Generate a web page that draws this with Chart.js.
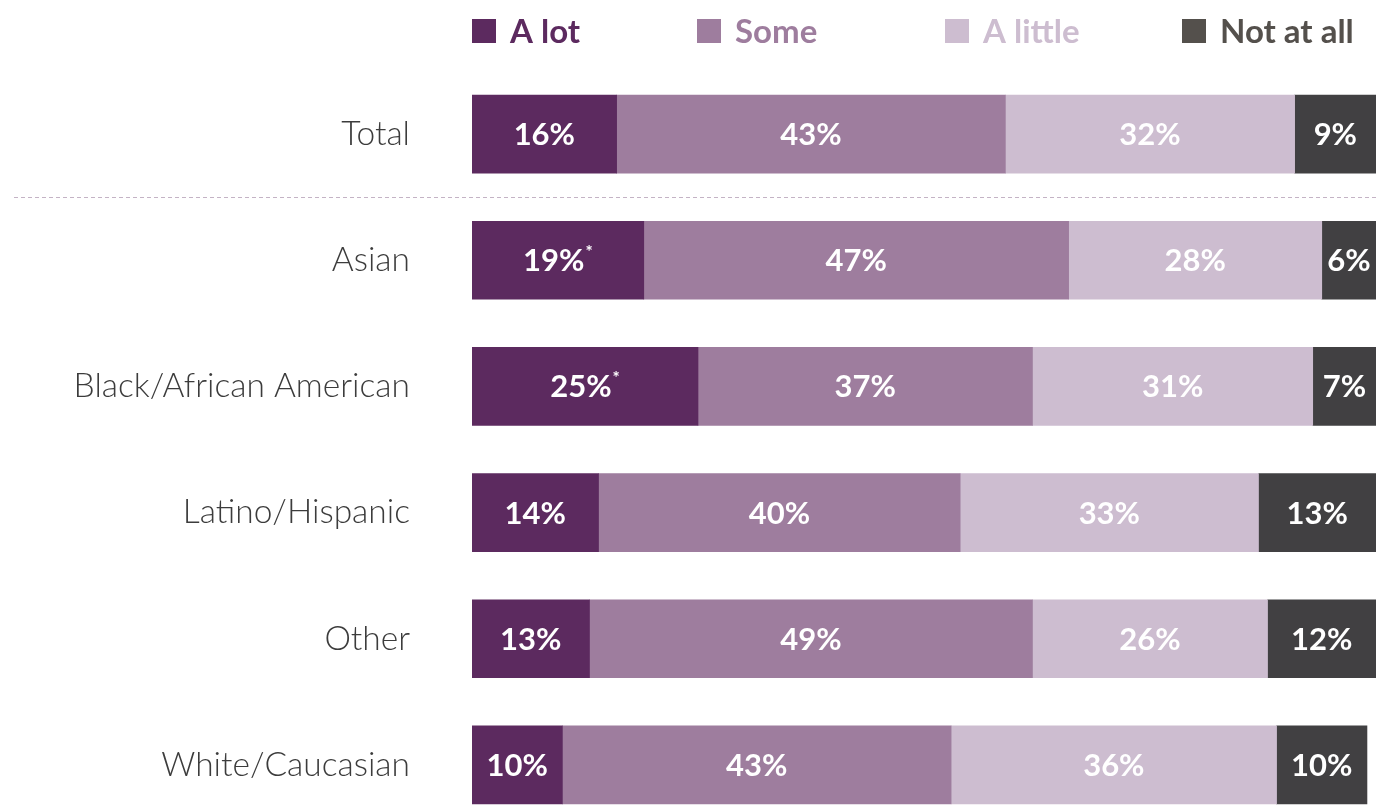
<!DOCTYPE html>
<html>
<head>
<meta charset="utf-8">
<script src="https://cdn.jsdelivr.net/npm/chart.js@4.4.1/dist/chart.umd.min.js"></script>
<style>
  html, body { margin: 0; padding: 0; background: #ffffff; overflow: hidden; }
  #wrap { width: 1376px; height: 809px; overflow: hidden; }
  canvas { display: block; }
</style>
</head>
<body>
<div id="wrap"><canvas id="chart" width="1376" height="828"></canvas></div>
<script>
// Survey groups and share of answers (percent)
const categories = ['Total', 'Asian', 'Black/African American', 'Latino/Hispanic', 'Other', 'White/Caucasian'];
const seriesNames = ['A lot', 'Some', 'A little', 'Not at all'];
const aLot     = [16, 19, 25, 14, 13, 10];
const some     = [43, 47, 37, 40, 49, 43];
const aLittle  = [32, 28, 31, 33, 26, 36];
const notAtAll = [9, 6, 7, 13, 12, 10];
// Statistically significant differences marked with an asterisk
const aLotFlagged = [false, true, true, false, false, false];

const barColors = ['#5c2a5f', '#9e7d9e', '#cdbdd0', '#414042'];
const legendColors = ['#5c2a5f', '#9e7d9e', '#cdbdd0', '#54504c'];
const legendX = [472, 697, 945, 1182];

const seriesValues = [aLot, some, aLittle, notAtAll];
const flags = [aLotFlagged, null, null, null];

const LABEL_FONT = '700 31px Lato, "Open Sans", sans-serif';
const STAR_FONT = '700 17px Lato, "Open Sans", sans-serif';

// Draws the legend row above the bars
const legendRow = {
  id: 'legendRow',
  afterDraw(chart) {
    const ctx = chart.ctx;
    ctx.save();
    ctx.font = '700 33px Lato, "Open Sans", sans-serif';
    ctx.textBaseline = 'middle';
    ctx.textAlign = 'left';
    seriesNames.forEach((name, i) => {
      ctx.fillStyle = legendColors[i];
      ctx.fillRect(legendX[i], 19, 24, 24);
      ctx.fillText(name, legendX[i] + 38, 32);
    });
    ctx.restore();
  }
};

// Dashed separator between the overall row and the group rows
const separator = {
  id: 'separator',
  beforeDatasetsDraw(chart) {
    const y0 = chart.scales.y.getPixelForValue(0);
    const y1 = chart.scales.y.getPixelForValue(1);
    const y = Math.round((y0 + y1) / 2) + 0.5;
    const ctx = chart.ctx;
    ctx.save();
    ctx.strokeStyle = '#c4b3c5';
    ctx.lineWidth = 1;
    ctx.setLineDash([4, 3]);
    ctx.beginPath();
    ctx.moveTo(14, y);
    ctx.lineTo(chart.width, y);
    ctx.stroke();
    ctx.restore();
  }
};

// Percentage labels centred in each segment
const segmentLabels = {
  id: 'segmentLabels',
  afterDatasetsDraw(chart) {
    const ctx = chart.ctx;
    ctx.save();
    ctx.fillStyle = '#ffffff';
    ctx.textBaseline = 'middle';
    ctx.textAlign = 'left';
    chart.data.datasets.forEach((ds, di) => {
      const meta = chart.getDatasetMeta(di);
      meta.data.forEach((bar, i) => {
        const text = ds.data[i] + '%';
        const cx = (bar.x + bar.base) / 2;
        const cy = bar.y;
        ctx.font = LABEL_FONT;
        const w = ctx.measureText(text).width;
        const star = flags[di] && flags[di][i];
        if (star) {
          ctx.font = STAR_FONT;
          const sw = ctx.measureText('*').width;
          const x0 = cx - (w + sw + 1) / 2;
          ctx.font = LABEL_FONT;
          ctx.fillText(text, x0, cy + 1);
          ctx.font = STAR_FONT;
          ctx.fillText('*', x0 + w + 1, cy - 8);
        } else {
          ctx.fillText(text, cx - w / 2, cy + 1);
        }
      });
    });
    ctx.restore();
  }
};

new Chart(document.getElementById('chart'), {
  type: 'bar',
  data: {
    labels: categories,
    datasets: seriesNames.map((name, i) => ({
      label: name,
      data: seriesValues[i],
      backgroundColor: barColors[i],
      borderWidth: 0,
      barThickness: 78
    }))
  },
  options: {
    indexAxis: 'y',
    responsive: false,
    animation: false,
    devicePixelRatio: 1,
    layout: { padding: { top: 71, right: 0, bottom: 0, left: 0 } },
    plugins: {
      legend: { display: false },
      tooltip: { enabled: false }
    },
    scales: {
      x: {
        stacked: true,
        min: 0,
        max: 100,
        display: false
      },
      y: {
        stacked: true,
        grid: { display: false, drawTicks: false },
        border: { display: false },
        ticks: {
          color: '#3c3c3c',
          padding: 62,
          font: { family: 'Lato, "Open Sans", sans-serif', size: 33.5, weight: '300' }
        },
        afterFit(scale) {
          scale.width = 472;
          // labels sit at band centres, so no extra vertical room is needed
          scale.paddingTop = 0;
          scale.paddingBottom = 0;
        }
      }
    }
  },
  plugins: [legendRow, separator, segmentLabels]
});
</script>
</body>
</html>
